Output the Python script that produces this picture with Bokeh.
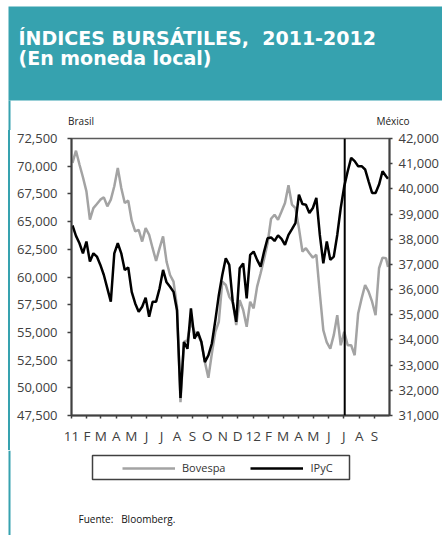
import pandas as pd
from bokeh.plotting import figure
from bokeh.models import (Range1d, LinearAxis, FixedTicker, NumeralTickFormatter, Span,
                          Label, ColumnDataSource, Legend, LegendItem, Spacer, BoxAnnotation)
from bokeh.layouts import column, row
from bokeh.embed import file_html
from bokeh.resources import INLINE

# ---------------- data ----------------
TITLE_1 = "ÍNDICES BURSÁTILES,  2011-2012"
TITLE_2 = "(En moneda local)"
SOURCE_NOTE = "Fuente:   Bloomberg."
LEFT_AXIS_NAME = "Brasil"
RIGHT_AXIS_NAME = "México"
SERIES_NAMES = ["Bovespa", "IPyC"]

MONTH_LABELS = ["11", "F", "M", "A", "M", "J", "J", "A", "S", "O", "N", "D",
                "12", "F", "M", "A", "M", "J", "J", "A", "S"]
BR_TICKS = [47500, 50000, 52500, 55000, 57500, 60000, 62500, 65000, 67500, 70000, 72500]
MX_TICKS = [31000, 32000, 33000, 34000, 35000, 36000, 37000, 38000, 39000, 40000, 41000, 42000]

DATES = list(pd.date_range("2011-01-03", "2012-09-24", freq="7D").strftime("%Y-%m-%d")) + ["2012-09-28"]

BOVESPA = [70300, 71400, 70150, 69000, 67730, 65170, 66220, 66590, 66980, 67190, 66380, 66980,
           68190, 69850, 68030, 66680, 66890, 65080, 64110, 64260, 63200, 64410, 63810,
           62600, 61450, 62600, 63660, 61390, 60180, 59580, 57320, 48700, 54150, 54300, 55960,
           55050, 54750, 54150, 52340, 50900, 53090, 55050, 55960, 59580, 59280, 58220,
           57770, 55660, 57920, 57020, 55500, 57770, 57170, 59130, 60340, 61630, 63050, 65260,
           65620, 65170, 65920, 66680, 68280, 66530, 66220, 64410, 62300, 62600,
           62150, 61750, 62000, 58520, 55200, 54090, 53540, 54750, 56560, 53840, 55050, 53840,
           53840, 52940, 56710, 58070, 59280, 58680, 57770, 56560, 60790, 61750, 61690, 60900]

IPYC = [38546, 38134, 37840, 37440, 37910, 37110, 37440, 37310, 36980, 36580, 36050, 35520,
        37440, 37840, 37440, 36780, 36880, 35910, 35450, 35120, 35320, 35680, 34920,
        35520, 35520, 36050, 36780, 36290, 36110, 35910, 35180, 31700, 33920, 33650, 35250,
        34050, 34320, 33920, 33120, 33390, 33860, 34780, 35780, 36580, 37240, 36980,
        35520, 34720, 36850, 37040, 35650, 37380, 37510, 37180, 36910, 37510, 38040, 38070,
        37930, 38150, 38010, 37780, 38170, 38400, 38640, 39770, 39400, 39370,
        39040, 39240, 39640, 38170, 37040, 37910, 37180, 37310, 38170, 39240, 40100, 40700,
        41230, 41100, 40900, 40900, 40770, 40300, 39840, 39840, 40170, 40700, 40500, 40400]

EVENT_DATE = "2012-07-03"
AXIS_START = "2011-01-01"
AXIS_END = "2012-10-01"

# ---------------- styles ----------------
TEAL = "#36A2AF"
GREY_LINE = "#A3A3A3"
AXIS_COL = "#404040"
TICK_FONT = "Open Sans"
TITLE_FONT = "DejaVu Sans"

t0 = pd.Timestamp(AXIS_START)
def to_day(d):
    return int((pd.Timestamp(d) - t0).days)

x_days = [to_day(d) for d in DATES]
month_days = [to_day(d) for d in pd.date_range(AXIS_START, "2012-09-01", freq="MS")]
x_end = to_day(AXIS_END)

src = ColumnDataSource(dict(x=x_days, bov=BOVESPA, ipc=IPYC))

def blank_fig(w, hgt):
    return figure(width=w, height=hgt, output_backend="svg", toolbar_location=None,
                  x_range=Range1d(0, 1), y_range=Range1d(0, 1), x_axis_type=None,
                  y_axis_type=None, outline_line_color=None, min_border=0,
                  background_fill_color="white", border_fill_color="white")

def screen_box(left, right, bottom, top, **kw):
    return BoxAnnotation(left=left, right=right, bottom=bottom, top=top,
                         left_units="screen", right_units="screen",
                         bottom_units="screen", top_units="screen", **kw)

def teal_box(left, right, bottom, top):
    return screen_box(left, right, bottom, top, fill_color=TEAL, fill_alpha=1.0,
                      line_color=None)

# ---------------- header (title band + axis names) ----------------
h = blank_fig(442, 130)
h.add_layout(teal_box(8, 442, 30, 124))
h.add_layout(teal_box(8, 10, 0, 30))
for txt, yy in ((TITLE_1.replace("  ", " \u00a0"), 92.5), (TITLE_2, 72.5)):
    h.add_layout(Label(x=18, y=yy, x_units="screen", y_units="screen", text=txt,
                       text_color="white", text_font=TITLE_FONT, text_font_style="bold",
                       text_font_size="19px", text_baseline="middle"))
for txt, xx in ((LEFT_AXIS_NAME, 80.5), (RIGHT_AXIS_NAME, 392.5)):
    h.add_layout(Label(x=xx, y=9.5, x_units="screen", y_units="screen", text=txt,
                       text_align="center", text_baseline="middle", text_font=TICK_FONT,
                       text_font_size="10px", text_color="#222222"))

# ---------------- chart ----------------
p = figure(width=432, height=320, output_backend="svg", toolbar_location=None,
           x_range=Range1d(0, x_end), y_range=Range1d(BR_TICKS[0], BR_TICKS[-1]),
           x_axis_type=None, y_axis_type=None,
           min_border_left=61, min_border_right=51, min_border_top=8, min_border_bottom=35,
           background_fill_color="white", border_fill_color="white",
           outline_line_color="#5a5a5a", outline_line_width=1.5)
p.extra_y_ranges = {"mex": Range1d(MX_TICKS[0], MX_TICKS[-1])}

def style_axis(ax):
    ax.axis_line_color = AXIS_COL
    ax.axis_line_width = 2
    ax.major_tick_line_color = AXIS_COL
    ax.major_tick_line_width = 1.5
    ax.minor_tick_line_color = None
    ax.major_label_text_font = TICK_FONT
    ax.major_label_text_color = AXIS_COL
    ax.major_tick_in = 0

xa = LinearAxis(ticker=FixedTicker(ticks=month_days),
                major_label_overrides={d: lab for d, lab in zip(month_days, MONTH_LABELS)})
style_axis(xa)
xa.major_tick_out = 3
xa.major_label_standoff = 8
xa.major_label_text_font_size = "13.5px"
p.add_layout(xa, "below")

ya = LinearAxis(ticker=FixedTicker(ticks=BR_TICKS), formatter=NumeralTickFormatter(format="0,0"))
style_axis(ya)
ya.major_tick_out = 4
ya.major_label_standoff = 10
ya.major_label_text_font_size = "13px"
p.add_layout(ya, "left")

yb = LinearAxis(y_range_name="mex", ticker=FixedTicker(ticks=MX_TICKS),
                formatter=NumeralTickFormatter(format="0,0"))
style_axis(yb)
yb.major_tick_out = 3
yb.major_label_standoff = 6
yb.major_label_text_font_size = "13px"
p.add_layout(yb, "right")

p.line("x", "bov", source=src, line_color=GREY_LINE, line_width=2.5)
p.line("x", "ipc", source=src, y_range_name="mex", line_color="black", line_width=2.5)

p.add_layout(Span(location=to_day(EVENT_DATE), dimension="height", line_color="black",
                  line_width=2))

# ---------------- lower band: legend + source ----------------
foot = blank_fig(442, 85)
foot.add_layout(teal_box(8, 10, 0, 85))
foot.add_layout(screen_box(92, 349, 56, 80, fill_color="white", fill_alpha=0.0,
                           line_color=AXIS_COL, line_alpha=1.0, line_width=1.5))
nan = float("nan")
k_bov = foot.line(x=[nan, nan], y=[nan, nan], line_color=GREY_LINE, line_width=2.5)
k_ipc = foot.line(x=[nan, nan], y=[nan, nan], line_color="black", line_width=2.5)
legend = Legend(items=[LegendItem(label=SERIES_NAMES[0], renderers=[k_bov]),
                       LegendItem(label=SERIES_NAMES[1], renderers=[k_ipc])],
                orientation="horizontal", location=(122, 60), margin=0,
                padding=0, spacing=25, glyph_width=53, glyph_height=14,
                label_standoff=7, label_width=1,
                label_text_font=TICK_FONT, label_text_font_size="11px",
                label_text_color="#333333", border_line_color=None,
                background_fill_alpha=0.0)
foot.add_layout(legend, "center")
foot.add_layout(Label(x=78, y=17, x_units="screen", y_units="screen",
                      text=SOURCE_NOTE.replace(" ", "\u00a0"),
                      text_align="left", text_baseline="middle", text_font=TICK_FONT,
                      text_font_size="10px", text_color="#111111"))

white_gap = Spacer(width=8, height=320)
strip = Spacer(width=2, height=320, styles={"background-color": TEAL})
layout = column(h, row(white_gap, strip, p, spacing=0), foot, spacing=0)

open("out.html", "w").write(file_html(layout, INLINE))
